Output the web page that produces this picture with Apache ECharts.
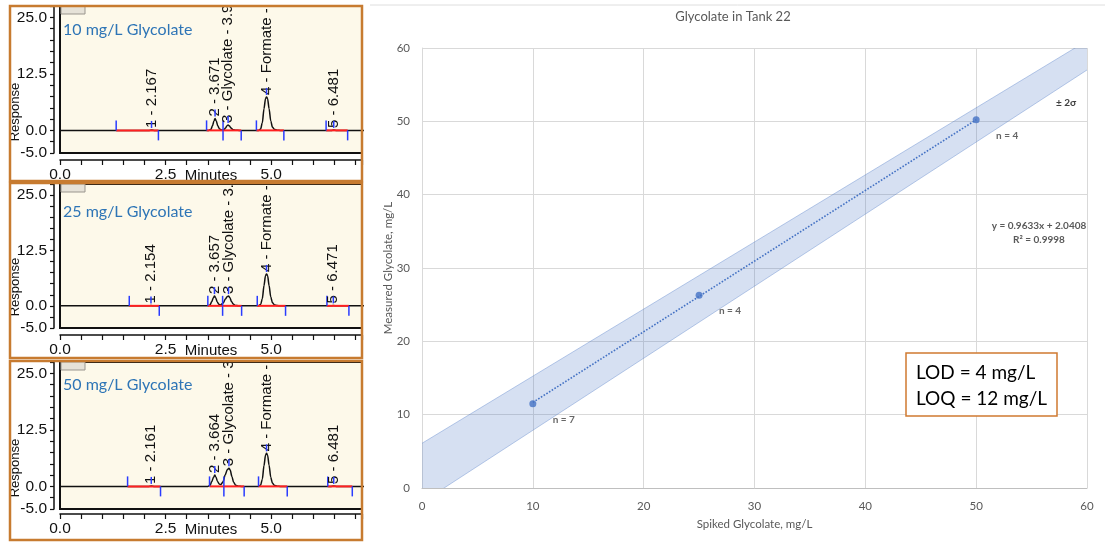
<!DOCTYPE html>
<html><head><meta charset="utf-8">
<script src="https://cdn.jsdelivr.net/npm/echarts@6/dist/echarts.min.js"></script>
<style>html,body{margin:0;padding:0;background:#fff}#c{width:1105px;height:544px}</style>
</head><body><div id="c"></div>
<script>
// ---------- Calibration chart (right) ----------
const spiked = [10, 25, 50];
const measured = [11.5, 26.3, 50.2];
const nLabels = ['n = 7', 'n = 4', 'n = 4'];
const trendX = [10, 50];
const trendY = [11.67, 50.21];
const bandX = [0, 60];
const bandLower = [-1.96, 57.0];
const bandUpper = [6.1, 61.0];
const calTitle = 'Glycolate in Tank 22';
const calXName = 'Spiked Glycolate, mg/L';
const calYName = 'Measured Glycolate, mg/L';
const equationText = 'y = 0.9633x + 2.0408';
const r2Text = 'R² = 0.9998';
const sigmaText = '± 2σ';
const lodText = 'LOD = 4 mg/L';
const loqText = 'LOQ = 12 mg/L';

// ---------- Chromatograms (left) ----------
const panelTitles = ['10 mg/L Glycolate', '25 mg/L Glycolate', '50 mg/L Glycolate'];
const respTickLabels = [-5, 0, 12.5, 25];
const minuteTickLabels = [0, 2.5, 5];

const trace10 = [[0,0],[2.1,0],[2.167,0.1],[2.25,0],[3.52,0],[3.57,0.2],[3.61,1.0],[3.645,2.1],[3.671,2.6],[3.70,2.1],[3.735,1.0],[3.78,0.3],[3.83,0.08],[3.88,0.15],[3.92,0.55],[3.955,1.05],[3.98,1.2],[4.01,1.0],[4.05,0.5],[4.10,0.15],[4.16,0.03],[4.25,0],[4.7,0],[4.75,0.3],[4.79,1.7],[4.83,4.8],[4.865,7.0],[4.89,7.4],[4.915,7.0],[4.95,4.8],[4.99,2.1],[5.03,0.7],[5.08,0.2],[5.14,0.05],[5.22,0],[6.42,0],[6.481,0.1],[6.55,0],[7.2,0]];
const trace25 = [[0,0],[2.08,0],[2.154,0.08],[2.23,0],[3.5,0],[3.55,0.2],[3.59,0.9],[3.63,1.8],[3.657,2.2],[3.685,1.85],[3.72,0.95],[3.76,0.35],[3.80,0.2],[3.86,0.6],[3.92,1.6],[3.96,2.1],[3.99,2.2],[4.02,1.9],[4.06,1.0],[4.10,0.4],[4.15,0.1],[4.22,0.02],[4.3,0],[4.7,0],[4.75,0.3],[4.79,1.6],[4.83,4.6],[4.865,6.8],[4.89,7.2],[4.915,6.8],[4.95,4.6],[4.99,2.0],[5.03,0.7],[5.08,0.2],[5.14,0.05],[5.22,0],[6.4,0],[6.471,0.08],[6.55,0],[7.2,0]];
const trace50 = [[0,0],[2.09,0],[2.161,0.08],[2.24,0],[3.5,0],[3.55,0.2],[3.59,1.0],[3.635,2.0],[3.664,2.5],[3.69,2.1],[3.73,1.1],[3.77,0.5],[3.81,0.4],[3.86,1.0],[3.91,2.5],[3.96,3.7],[4.0,4.0],[4.03,3.6],[4.07,2.2],[4.11,0.9],[4.16,0.25],[4.22,0.05],[4.3,0],[4.7,0],[4.75,0.3],[4.79,1.6],[4.83,4.6],[4.865,6.9],[4.89,7.3],[4.915,6.9],[4.95,4.7],[4.99,2.0],[5.03,0.7],[5.08,0.2],[5.14,0.05],[5.22,0],[6.4,0],[6.481,0.08],[6.56,0],[7.2,0]];

const peakTimes10 = [2.167, 3.671, 3.98, 4.89, 6.481];
const peakHeights10 = [0.1, 2.6, 1.2, 7.4, 0.1];
const peakLabels10 = ['1 - 2.167', '2 - 3.671', '3 - Glycolate - 3.9', '4 - Formate -', '5 - 6.481'];
const peakTimes25 = [2.154, 3.657, 3.99, 4.89, 6.471];
const peakHeights25 = [0.1, 2.2, 2.2, 7.2, 0.1];
const peakLabels25 = ['1 - 2.154', '2 - 3.657', '3 - Glycolate - 3.9', '4 - Formate -', '5 - 6.471'];
const peakTimes50 = [2.161, 3.664, 4.0, 4.89, 6.481];
const peakHeights50 = [0.1, 2.5, 4.0, 7.3, 0.1];
const peakLabels50 = ['1 - 2.161', '2 - 3.664', '3 - Glycolate - 3', '4 - Formate -', '5 - 6.481'];

const segments10 = [[1.33,2.33],[3.47,3.86],[3.86,4.29],[4.65,5.3],[6.3,6.81]];
const segments25 = [[1.64,2.35],[3.5,3.85],[3.85,4.3],[4.67,5.34],[6.32,6.84]];
const segments50 = [[1.6,2.38],[3.54,3.88],[3.88,4.36],[4.7,5.38],[6.34,6.92]];

// ---------- layout ----------
const ORANGE = '#c77b30';
const panels = [
  {top:6, height:147, titleY:30, box:[10,6,352,175], xOffset:7, trace:trace10, times:peakTimes10, heights:peakHeights10, labels:peakLabels10, segs:segments10},
  {top:184, height:144, titleY:212, box:[10,183,352,175], xOffset:7, trace:trace25, times:peakTimes25, heights:peakHeights25, labels:peakLabels25, segs:segments25},
  {top:362, height:147, titleY:385, box:[10,361,352,179], xOffset:5, trace:trace50, times:peakTimes50, heights:peakHeights50, labels:peakLabels50, segs:segments50}
];

const chart = echarts.init(document.getElementById('c'));
const grids = [], xAxes = [], yAxes = [], series = [], graphics = [];
const LS = 'Liberation Sans, Arial, sans-serif';

panels.forEach((p, i) => {
  grids.push({left:60, top:p.top, width:302, height:p.height, show:true, backgroundColor:'#fdf9ea',
    borderColor:'#111', borderWidth:2, outerBoundsMode:'none', containLabel:false});
  xAxes.push({gridIndex:i, type:'value', min:0, max:7.15, interval:0.5, offset:p.xOffset,
    axisLine:{show:true, onZero:false, lineStyle:{color:'#111', width:1.5}},
    axisTick:{show:true, length:5, lineStyle:{color:'#111', width:1.2}},
    axisLabel:{show:true, margin:7, color:'#111', fontSize:15.5, fontFamily:LS,
      formatter: v => minuteTickLabels.indexOf(v) >= 0 ? v.toFixed(1) : ''},
    splitLine:{show:false},
    name:'Minutes', nameLocation:'middle', nameGap:8, nameMoveOverlap:false,
    nameTextStyle:{color:'#111', fontSize:15, fontFamily:LS}});
  yAxes.push({gridIndex:i, type:'value', min:-5, max:27.5, interval:2.5, offset:6,
    axisLine:{show:true, onZero:false, lineStyle:{color:'#111', width:1.5}},
    axisTick:{show:true, length:4, lineStyle:{color:'#111', width:1.2}},
    axisLabel:{show:true, margin:7, color:'#111', fontSize:15.5, fontFamily:LS,
      formatter: v => respTickLabels.indexOf(v) >= 0 ? v.toFixed(1) : ''},
    splitLine:{show:false}});
  series.push({type:'line', xAxisIndex:i, yAxisIndex:i, data:p.trace, symbol:'none', showSymbol:false,
    smooth:0.3, smoothMonotone:'x', lineStyle:{color:'#111', width:1.5}, z:3, silent:true});
  const segs = p.segs;
  series.push({type:'custom', xAxisIndex:i, yAxisIndex:i, clip:true, z:4, silent:true,
    data: segs,
    encode:{x:[0,1], y:0},
    renderItem: (params, api) => {
      const a = api.coord([api.value(0), 0]);
      const b = api.coord([api.value(1), 0]);
      return {type:'group', children:[
        {type:'line', shape:{x1:a[0], y1:a[1], x2:b[0], y2:b[1]}, style:{stroke:'#ff2020', lineWidth:2}},
        {type:'line', shape:{x1:a[0], y1:a[1], x2:a[0], y2:a[1]-10}, style:{stroke:'#2a3cff', lineWidth:1.5}},
        {type:'line', shape:{x1:b[0], y1:b[1], x2:b[0], y2:b[1]+10}, style:{stroke:'#2a3cff', lineWidth:1.5}}
      ]};
    }});
  const labels = p.labels;
  series.push({type:'custom', xAxisIndex:i, yAxisIndex:i, clip:true, z:5, silent:true,
    data: p.times.map((t, k) => [t, p.heights[k]]),
    renderItem: (params, api) => {
      const c = api.coord([api.value(0), api.value(1)]);
      const x = c[0], y = c[1] - 2;
      return {type:'group', children:[
        {type:'text', x:x, y:y, rotation:Math.PI/2,
          style:{text:labels[params.dataIndex], fill:'#111', font:'15px ' + LS,
            align:'left', verticalAlign:'middle', textAlign:'left', textVerticalAlign:'middle'}},
        {type:'line', shape:{x1:x, y1:y, x2:x, y2:y-7}, style:{stroke:'#2a3cff', lineWidth:1.5}}
      ]};
    }});
  // decorations
  graphics.push({type:'rect', z:90, shape:{x:61, y:p.top, width:24, height:8},
    style:{fill:'#e6e2d8', stroke:'#9a968e', lineWidth:1}});
  graphics.push({type:'text', z:90, x:63, y:p.titleY,
    style:{text:panelTitles[i], fill:'#2e75b6', font:'16px Lato, sans-serif',
      align:'left', verticalAlign:'middle', textAlign:'left', textVerticalAlign:'middle'}});
  graphics.push({type:'text', z:90, x:15, y:p.top + p.height - 41, rotation:Math.PI/2,
    style:{text:'Response', fill:'#111', font:'13px ' + LS,
      align:'center', verticalAlign:'middle', textAlign:'center', textVerticalAlign:'middle'}});
  graphics.push({type:'rect', z:100, shape:{x:p.box[0], y:p.box[1], width:p.box[2], height:p.box[3]},
    style:{fill:'none', stroke:ORANGE, lineWidth:2.5}});
});

// right calibration chart
const R = 3;
grids.push({left:422, top:48, right:18, bottom:56, show:false, outerBoundsMode:'none', containLabel:false});
const calAxisCommon = {
  type:'value', min:0, max:60, interval:10,
  axisTick:{show:false},
  axisLabel:{color:'#595959', fontSize:11.5, fontFamily:'Lato, sans-serif', margin:12},
  splitLine:{show:true, lineStyle:{color:'#d9d9d9', width:1}},
  nameLocation:'middle', nameMoveOverlap:false,
  nameTextStyle:{color:'#595959', fontSize:11.5, fontFamily:'Lato, sans-serif'}
};
xAxes.push(Object.assign({}, calAxisCommon, {gridIndex:R, name:calXName, nameGap:30,
  axisLine:{show:true, onZero:false, lineStyle:{color:'#bfbfbf', width:1}}}));
yAxes.push(Object.assign({}, calAxisCommon, {gridIndex:R, name:calYName, nameGap:28,
  axisLine:{show:true, onZero:false, lineStyle:{color:'#d9d9d9', width:1}}}));

series.push({type:'custom', xAxisIndex:R, yAxisIndex:R, clip:true, z:2, silent:true,
  data: bandX.map((x, k) => [x, bandLower[k], bandUpper[k]]),
  encode:{x:0, y:[1,2]},
  renderItem: (params, api) => {
    const k = params.dataIndex;
    if (k >= bandX.length - 1) return null;
    const p1 = api.coord([bandX[k], bandLower[k]]);
    const p2 = api.coord([bandX[k+1], bandLower[k+1]]);
    const p3 = api.coord([bandX[k+1], bandUpper[k+1]]);
    const p4 = api.coord([bandX[k], bandUpper[k]]);
    return {type:'group', children:[
      {type:'polygon', shape:{points:[p1,p2,p3,p4]}, style:{fill:'rgba(68,114,196,0.22)'}},
      {type:'line', shape:{x1:p1[0], y1:p1[1], x2:p2[0], y2:p2[1]}, style:{stroke:'rgba(68,114,196,0.35)', lineWidth:1}},
      {type:'line', shape:{x1:p4[0], y1:p4[1], x2:p3[0], y2:p3[1]}, style:{stroke:'rgba(68,114,196,0.35)', lineWidth:1}}
    ]};
  }});
series.push({type:'line', xAxisIndex:R, yAxisIndex:R, data:trendX.map((x, k) => [x, trendY[k]]),
  symbol:'none', lineStyle:{color:'#4472c4', width:1.6, type:'dotted'}, z:3, silent:true});
series.push({type:'scatter', xAxisIndex:R, yAxisIndex:R, data:spiked.map((x, k) => [x, measured[k]]),
  symbolSize:7, itemStyle:{color:'#4472c4'}, z:4, silent:true,
  label:{show:true, position:'inside', offset:[31, 16], color:'#404040', fontSize:10,
    fontFamily:'Lato, sans-serif', fontWeight:'bold', formatter: prm => nLabels[prm.dataIndex]}});

graphics.push({type:'line', z:1, shape:{x1:370, y1:5, x2:1105, y2:5}, style:{stroke:'#dedede', lineWidth:1}});
graphics.push({type:'text', z:10, x:733, y:17,
  style:{text:calTitle, fill:'#595959', font:'13px Lato, sans-serif',
    align:'center', verticalAlign:'middle', textAlign:'center', textVerticalAlign:'middle'}});
graphics.push({type:'text', z:10, x:1066, y:103,
  style:{text:sigmaText, fill:'#404040', font:'bold 10px Lato, sans-serif',
    align:'center', verticalAlign:'middle', textAlign:'center', textVerticalAlign:'middle'}});
graphics.push({type:'text', z:10, x:1039, y:226,
  style:{text:equationText, fill:'#595959', font:'bold 10px Lato, sans-serif',
    align:'center', verticalAlign:'middle', textAlign:'center', textVerticalAlign:'middle'}});
graphics.push({type:'text', z:10, x:1039, y:240,
  style:{text:r2Text, fill:'#595959', font:'bold 10px Lato, sans-serif',
    align:'center', verticalAlign:'middle', textAlign:'center', textVerticalAlign:'middle'}});
graphics.push({type:'rect', z:10, shape:{x:906, y:353, width:151, height:63},
  style:{fill:'#fff', stroke:'#d07a30', lineWidth:1.5}});
graphics.push({type:'text', z:11, x:916, y:373,
  style:{text:lodText, fill:'#000', font:'19px Lato, sans-serif',
    align:'left', verticalAlign:'middle', textAlign:'left', textVerticalAlign:'middle'}});
graphics.push({type:'text', z:11, x:916, y:399,
  style:{text:loqText, fill:'#000', font:'19px Lato, sans-serif',
    align:'left', verticalAlign:'middle', textAlign:'left', textVerticalAlign:'middle'}});

chart.setOption({
  animation:false,
  backgroundColor:'#ffffff',
  grid:grids, xAxis:xAxes, yAxis:yAxes, series:series, graphic:graphics
});
</script></body></html>
